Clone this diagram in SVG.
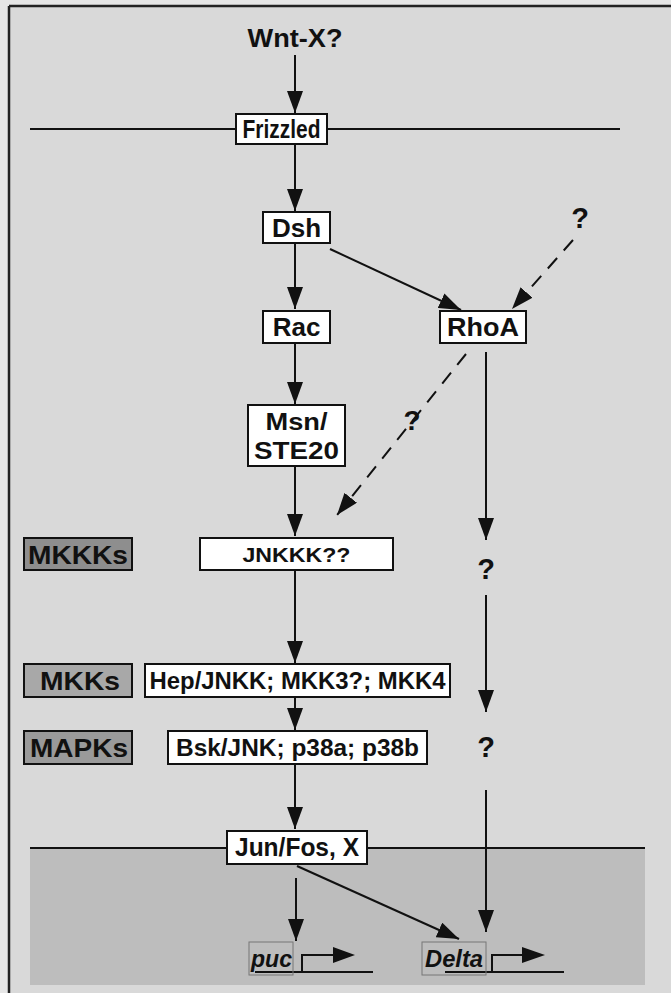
<svg xmlns="http://www.w3.org/2000/svg" width="671" height="993" viewBox="0 0 671 993">
  <style>
    .box { fill: #ffffff; stroke: #111; stroke-width: 2; }
    .lbl { stroke: #111; stroke-width: 2; }
    .t { font-family: "Liberation Sans", Arial, sans-serif; font-weight: bold; fill: #111; text-anchor: middle; }
    .gene { font-family: "Liberation Sans", Arial, sans-serif; font-weight: bold; font-style: italic; fill: #111; }
    .ln { stroke: #111; stroke-width: 2; fill: none; }
    .arr { stroke: #111; stroke-width: 2; fill: none; marker-end: url(#ah); }
    .dash { stroke: #111; stroke-width: 2; fill: none; stroke-dasharray: 14 10; marker-end: url(#ah); }
  </style>
  <defs>
    <marker id="ah" markerUnits="userSpaceOnUse" markerWidth="24" markerHeight="16" refX="22" refY="8" orient="auto">
      <path d="M0,0 L22,8 L0,16 Z" fill="#111"/>
    </marker>
  </defs>

  <!-- background -->
  <rect x="0" y="0" width="671" height="993" fill="#e6e6e6"/>
  <rect x="9" y="6" width="662" height="987" fill="#d9d9d9"/>
  <line x1="9" y1="6" x2="671" y2="6" stroke="#222" stroke-width="2.5"/>
  <line x1="9" y1="6" x2="9" y2="993" stroke="#222" stroke-width="2.5"/>
  <!-- nucleus -->
  <rect x="30" y="848" width="615" height="137" fill="#bdbdbd"/>
  <line x1="30" y1="848" x2="645" y2="848" class="ln"/>
  <!-- membrane -->
  <line x1="30" y1="129" x2="620" y2="129" class="ln"/>

  <g id="connectors">
    <line x1="295" y1="55" x2="295" y2="113" class="arr"/>
    <line x1="295" y1="145" x2="295" y2="211" class="arr"/>
    <line x1="295" y1="244" x2="295" y2="309" class="arr"/>
    <line x1="330" y1="249" x2="461" y2="310" class="arr"/>
    <line x1="573" y1="240" x2="512" y2="309" class="dash"/>
    <line x1="295" y1="344" x2="295" y2="404" class="arr"/>
    <line x1="466" y1="354" x2="337" y2="515" class="dash"/>
    <line x1="295" y1="467" x2="295" y2="536" class="arr"/>
    <line x1="486" y1="352" x2="486" y2="540" class="arr"/>
    <line x1="486" y1="595" x2="486" y2="712" class="arr"/>
    <line x1="486" y1="790" x2="486" y2="932" class="arr"/>
    <line x1="295" y1="571" x2="295" y2="663" class="arr"/>
    <line x1="295" y1="698" x2="295" y2="730" class="arr"/>
    <line x1="295" y1="765" x2="295" y2="829" class="arr"/>
    <line x1="296" y1="878" x2="296" y2="941" class="arr"/>
    <line x1="297" y1="866" x2="459" y2="939" class="arr"/>
  </g>

  <g id="wnt">
    <text x="295" y="47" class="t" font-size="26" textLength="95" lengthAdjust="spacingAndGlyphs">Wnt-X?</text>
  </g>
  <g id="frizzled">
    <rect x="236" y="114" width="91" height="30" class="box"/>
    <text x="281.5" y="138" class="t" font-size="25" textLength="78" lengthAdjust="spacingAndGlyphs">Frizzled</text>
  </g>
  <g id="dsh">
    <rect x="263" y="212" width="67" height="31" class="box"/>
    <text x="296.5" y="237" class="t" font-size="26">Dsh</text>
  </g>
  <g id="q-top">
    <text x="580" y="228" class="t" font-size="29">?</text>
  </g>
  <g id="rac">
    <rect x="263" y="311" width="67" height="32" class="box"/>
    <text x="296.5" y="336" class="t" font-size="26">Rac</text>
  </g>
  <g id="rhoa">
    <rect x="440" y="311" width="86" height="32" class="box"/>
    <text x="483" y="336" class="t" font-size="26" textLength="72" lengthAdjust="spacingAndGlyphs">RhoA</text>
  </g>
  <g id="q-mid">
    <text x="412" y="430" class="t" font-size="28">?</text>
  </g>
  <g id="msn">
    <rect x="248" y="405" width="97" height="61" class="box"/>
    <text x="296.5" y="430" class="t" font-size="24" textLength="62" lengthAdjust="spacingAndGlyphs">Msn/</text>
    <text x="296.5" y="459" class="t" font-size="24" textLength="85" lengthAdjust="spacingAndGlyphs">STE20</text>
  </g>
  <g id="mkkks">
    <rect x="24" y="538" width="108" height="32" fill="#8e8e8e" class="lbl"/>
    <text x="78" y="564" class="t" font-size="26" textLength="100" lengthAdjust="spacingAndGlyphs">MKKKs</text>
  </g>
  <g id="jnkkk">
    <rect x="200" y="538" width="193" height="32" class="box"/>
    <text x="296.5" y="562" class="t" font-size="21" textLength="108" lengthAdjust="spacingAndGlyphs">JNKKK??</text>
  </g>
  <g id="q1">
    <text x="486" y="579" class="t" font-size="29">?</text>
  </g>
  <g id="mkks">
    <rect x="24" y="664" width="108" height="33" fill="#a8a8a8" class="lbl"/>
    <text x="80" y="690" class="t" font-size="26" textLength="80" lengthAdjust="spacingAndGlyphs">MKKs</text>
  </g>
  <g id="hep">
    <rect x="145" y="664" width="305" height="33" class="box"/>
    <text x="297.5" y="689" class="t" font-size="24" textLength="296" lengthAdjust="spacingAndGlyphs">Hep/JNKK; MKK3?; MKK4</text>
  </g>
  <g id="mapks">
    <rect x="24" y="731" width="108" height="33" fill="#9a9a9a" class="lbl"/>
    <text x="79" y="757" class="t" font-size="26" textLength="98" lengthAdjust="spacingAndGlyphs">MAPKs</text>
  </g>
  <g id="bsk">
    <rect x="168" y="731" width="259" height="33" class="box"/>
    <text x="297.5" y="756" class="t" font-size="24" textLength="243" lengthAdjust="spacingAndGlyphs">Bsk/JNK; p38a; p38b</text>
  </g>
  <g id="q2">
    <text x="486" y="757" class="t" font-size="29">?</text>
  </g>
  <g id="junfos">
    <rect x="227" y="831" width="140" height="33" class="box"/>
    <text x="297" y="856" class="t" font-size="25" textLength="124" lengthAdjust="spacingAndGlyphs">Jun/Fos, X</text>
  </g>
  <g id="puc">
    <line x1="255" y1="972" x2="373" y2="972" class="ln"/>
    <rect x="249" y="942" width="44" height="33" fill="none" stroke="#777" stroke-width="1"/>
    <text x="251" y="967" class="gene" font-size="24" textLength="41" lengthAdjust="spacingAndGlyphs">puc</text>
    <polyline points="302,972 302,955 334,955" class="ln"/>
    <path d="M333,947 L355,955 L333,963 Z" fill="#111"/>
  </g>
  <g id="delta">
    <line x1="445" y1="972" x2="564" y2="972" class="ln"/>
    <rect x="422" y="942" width="64" height="33" fill="none" stroke="#777" stroke-width="1"/>
    <text x="425" y="967" class="gene" font-size="24" textLength="58" lengthAdjust="spacingAndGlyphs">Delta</text>
    <polyline points="492,972 492,955 523,955" class="ln"/>
    <path d="M522,947 L545,955 L522,963 Z" fill="#111"/>
  </g>
</svg>
